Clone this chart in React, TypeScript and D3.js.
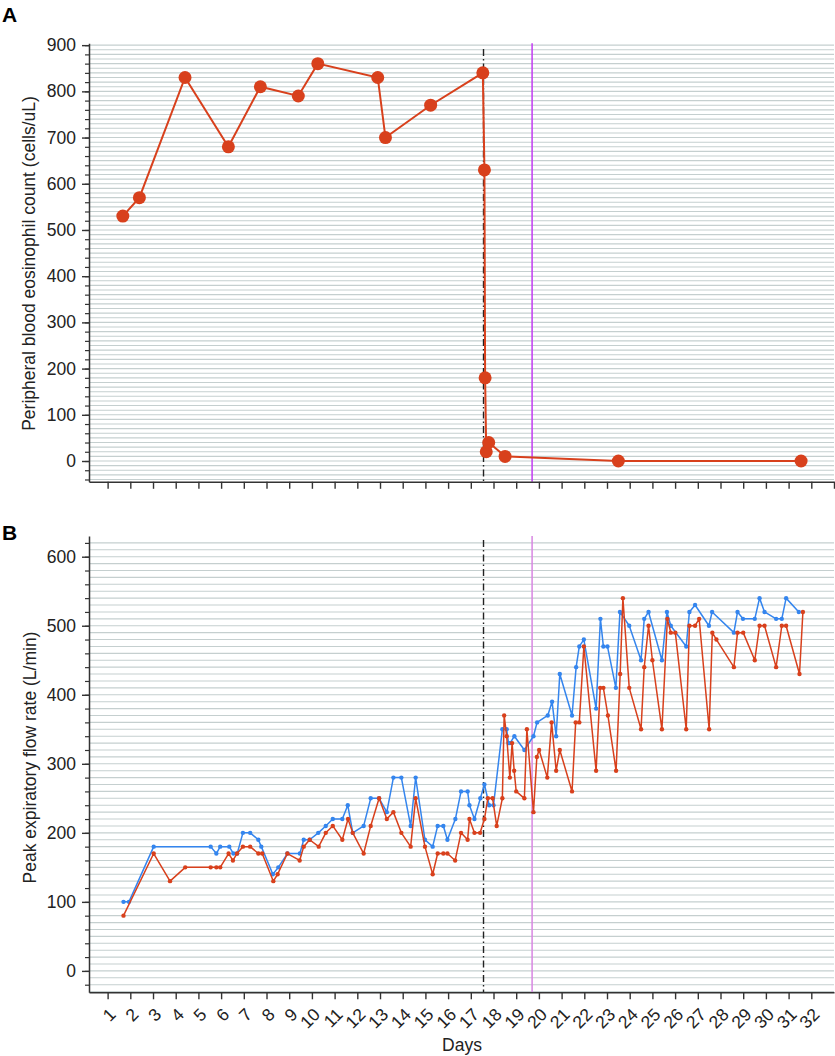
import React, { useRef, useEffect } from "react";
import * as d3 from "d3";

// Panel A: peripheral blood eosinophils
const eosDays = [1.67, 2.4, 4.41, 6.32, 7.73, 9.4, 10.26, 12.9, 13.24, 15.23, 17.53, 17.6, 17.63, 17.68, 17.79, 18.51, 23.5, 31.55];
const eosCounts = [530, 570, 830, 680, 810, 790, 860, 830, 700, 770, 840, 630, 180, 20, 40, 10, 0, 0];

// Panel B: peak expiratory flow, blue series
const pefBlueDays = [
  1.7, 1.94, 3.03, 5.54, 5.79, 5.96, 6.36, 6.54, 6.71, 6.96, 7.28, 7.64, 7.77, 8.28, 8.52, 8.92, 9.47, 9.64, 9.9,
  10.28, 10.61, 10.92, 11.34, 11.58, 11.8, 12.28, 12.59, 12.96, 13.3, 13.59, 13.94, 14.35, 14.57, 14.98, 15.32,
  15.54, 15.79, 15.97, 16.32, 16.57, 16.86, 16.94, 17.16, 17.42, 17.6, 17.81, 18.0, 18.39, 18.58, 18.66, 18.73,
  18.92, 19.36, 19.76, 19.92, 20.39, 20.58, 20.76, 20.92, 21.46, 21.64, 21.78, 21.98, 22.52, 22.71, 22.84, 23.02,
  23.39, 23.57, 23.98, 24.5, 24.64, 24.83, 25.42, 25.64, 25.81, 26.49, 26.63, 26.88, 27.49, 27.63, 28.59, 28.75,
  28.99, 29.51, 29.72, 29.94, 30.45, 30.7, 30.89, 31.45,
];
const pefBlue = [
  100, 100, 180, 180, 170, 180, 180, 170, 170, 200, 200, 190, 180, 140, 150, 170, 170, 190, 190,
  200, 210, 220, 220, 240, 200, 210, 250, 250, 230, 280, 280, 210, 280, 190, 180,
  210, 210, 190, 220, 260, 260, 240, 220, 250, 270, 240, 240, 350, 350, 330, 330,
  340, 320, 340, 360, 370, 390, 340, 430, 370, 440, 470, 480, 380, 510, 470, 470,
  410, 520, 500, 450, 510, 520, 450, 520, 500, 470, 520, 530, 500, 520, 490, 520,
  510, 510, 540, 520, 510, 510, 540, 520,
];

// Panel B: peak expiratory flow, red series
const pefRedDays = [
  1.7, 3.03, 3.75, 4.42, 5.54, 5.79, 5.96, 6.33, 6.52, 6.7, 6.96, 7.28, 7.64, 7.81, 8.3, 8.49, 8.92, 9.46, 9.64,
  9.9, 10.3, 10.61, 10.92, 11.34, 11.59, 11.8, 12.28, 12.59, 12.96, 13.3, 13.59, 13.94, 14.35, 14.57, 14.98,
  15.32, 15.54, 15.79, 15.97, 16.31, 16.57, 16.86, 16.94, 17.16, 17.41, 17.6, 17.75, 17.96, 18.14, 18.39, 18.47,
  18.58, 18.72, 18.82, 18.91, 19.0, 19.36, 19.47, 19.76, 19.91, 20.01, 20.37, 20.56, 20.76, 20.92, 21.46, 21.62,
  21.78, 21.98, 22.52, 22.7, 22.84, 23.04, 23.4, 23.58, 23.7, 23.98, 24.5, 24.64, 24.83, 25.0, 25.42, 25.66,
  25.81, 26.01, 26.49, 26.63, 26.88, 27.06, 27.5, 27.64, 27.82, 28.59, 28.75, 29.0, 29.51, 29.72, 29.94, 30.45,
  30.7, 30.89, 31.48, 31.63,
];
const pefRed = [
  80, 170, 130, 150, 150, 150, 150, 170, 160, 170, 180, 180, 170, 170, 130, 140, 170, 160, 180,
  190, 180, 200, 210, 190, 220, 200, 170, 210, 250, 220, 230, 200, 180, 250, 180,
  140, 170, 170, 170, 160, 200, 190, 220, 200, 200, 220, 250, 250, 210, 250, 370,
  340, 280, 330, 290, 260, 250, 350, 230, 310, 320, 280, 360, 290, 320, 260, 360,
  360, 470, 290, 410, 410, 370, 290, 430, 540, 410, 350, 440, 500, 450, 350, 510,
  490, 490, 350, 500, 500, 510, 350, 490, 480, 440, 490, 490, 450, 500, 500, 440,
  500, 500, 430, 520,
];

const dayLabels = ["1", "2", "3", "4", "5", "6", "7", "8", "9", "10", "11", "12", "13", "14", "15", "16",
  "17", "18", "19", "20", "21", "22", "23", "24", "25", "26", "27", "28", "29", "30", "31", "32"];
const eosTicks = [0, 100, 200, 300, 400, 500, 600, 700, 800, 900];
const pefTicks = [0, 100, 200, 300, 400, 500, 600];

const steroidDay = 17.56;
const dischargeDay = 19.7;

const RED = "#d8401c";
const BLUE = "#3485ee";
const GRID = "#c5cfcf";
const AXIS = "#333";
const FONT = "'Liberation Sans', Arial, Helvetica, sans-serif";
const FS = 17.5;

export default function App() {
  const ref = useRef<SVGSVGElement>(null);

  useEffect(() => {
    const width = 835;
    const height = 1056;
    const svg = d3.select(ref.current);
    svg.selectAll("*").remove();
    svg.attr("width", width).attr("height", height).style("font-family", FONT);

    const x = d3.scaleLinear().domain([0.18, 33]).range([89, 834]);

    function panel(
      y: d3.ScaleLinear<number, number>,
      majors: number[],
      gridFrom: number,
      gridTo: number,
      topLine: number,
      magentaColor: string
    ) {
      const g = svg.append("g");
      const [y0, y1] = y.range();

      // horizontal grid every 10 units
      g.append("g")
        .selectAll("line")
        .data(d3.range(gridFrom, gridTo + 1, 10))
        .enter()
        .append("line")
        .attr("x1", x.range()[0] + 1)
        .attr("x2", x.range()[1])
        .attr("y1", d => y(d))
        .attr("y2", d => y(d))
        .attr("stroke", GRID)
        .attr("stroke-width", 1.1);

      // dash-dot line and magenta line
      g.append("line")
        .attr("x1", x(steroidDay))
        .attr("x2", x(steroidDay))
        .attr("y1", topLine)
        .attr("y2", y0)
        .attr("stroke", "#222")
        .attr("stroke-width", 1.4)
        .attr("stroke-dasharray", "7,3,1.5,3");

      g.append("line")
        .attr("x1", x(dischargeDay))
        .attr("x2", x(dischargeDay))
        .attr("y1", y1)
        .attr("y2", y0)
        .attr("stroke", magentaColor)
        .attr("stroke-width", 1.5);

      // y axis
      const minors = d3.range(Math.ceil(y.domain()[0] / 20) * 20, y.domain()[1], 20);
      g.append("g")
        .attr("transform", `translate(${x.range()[0]},0)`)
        .call(d3.axisLeft(y).tickValues(minors).tickSize(4).tickSizeOuter(0).tickFormat(() => ""))
        .call(s => s.select(".domain").attr("stroke", AXIS).attr("stroke-width", 1.5))
        .call(s => s.selectAll(".tick line").attr("stroke", AXIS).attr("stroke-width", 1.2));

      g.append("g")
        .attr("transform", `translate(${x.range()[0]},0)`)
        .call(d3.axisLeft(y).tickValues(majors).tickSize(7).tickPadding(6).tickSizeOuter(0))
        .call(s => s.select(".domain").remove())
        .call(s => s.selectAll(".tick line").attr("stroke", AXIS).attr("stroke-width", 1.4))
        .call(s => s.selectAll(".tick text").attr("font-size", FS).attr("fill", "#222").style("font-family", FONT));

      return g;
    }

    // ---------- Panel A ----------
    const yA = d3.scaleLinear().domain([-45, 904]).range([481.8, 43.3]);
    const gA = panel(yA, eosTicks, -40, 900, 49, "#c23cf2");

    gA.append("g")
      .attr("transform", `translate(0,${yA.range()[0]})`)
      .call(d3.axisBottom(x).tickValues(d3.range(1, 34)).tickSize(7).tickSizeOuter(0).tickFormat(() => ""))
      .call(s => s.select(".domain").attr("stroke", AXIS).attr("stroke-width", 1.5))
      .call(s => s.selectAll(".tick line").attr("stroke", AXIS).attr("stroke-width", 1.4));

    const lineA = d3.line<number>().x((d, i) => x(eosDays[i])).y(d => yA(d));
    gA.append("path")
      .datum(eosCounts)
      .attr("d", lineA)
      .attr("fill", "none")
      .attr("stroke", RED)
      .attr("stroke-width", 2);
    gA.selectAll("circle.eos")
      .data(eosCounts)
      .enter()
      .append("circle")
      .attr("cx", (d, i) => x(eosDays[i]))
      .attr("cy", d => yA(d))
      .attr("r", 6.5)
      .attr("fill", RED);

    gA.append("text")
      .attr("transform", `translate(35,263.5) rotate(-90)`)
      .attr("text-anchor", "middle")
      .attr("font-size", FS)
      .attr("fill", "#222")
      .text("Peripheral blood eosinophil count (cells/uL)");

    svg.append("text").attr("x", 2).attr("y", 22).attr("font-size", 21).attr("font-weight", "bold").text("A");

    // ---------- Panel B ----------
    const yB = d3.scaleLinear().domain([-31, 630]).range([992.3, 536]);
    const gB = panel(yB, pefTicks, -30, 620, 540, "#d887e2");

    const xAxisB = gB.append("g")
      .attr("transform", `translate(0,${yB.range()[0]})`)
      .call(d3.axisBottom(x).tickValues(dayLabels.map(Number)).tickSize(7).tickSizeOuter(0).tickFormat(() => ""))
      .call(s => s.select(".domain").attr("stroke", AXIS).attr("stroke-width", 1.5))
      .call(s => s.selectAll(".tick line").attr("stroke", AXIS).attr("stroke-width", 1.4));

    // rotated day labels (inside the translated axis group)
    xAxisB.selectAll("text.lab")
      .data(dayLabels)
      .enter()
      .append("text")
      .attr("class", "lab")
      .attr("transform", d => `translate(${x(+d) + 5},19) rotate(-45)`)
      .attr("text-anchor", "end")
      .attr("dy", "0.35em")
      .attr("font-size", FS)
      .attr("fill", "#222")
      .style("font-family", FONT)
      .text(d => d);

    const series = [
      { days: pefBlueDays, vals: pefBlue, color: BLUE },
      { days: pefRedDays, vals: pefRed, color: RED },
    ];
    series.forEach(sr => {
      const ln = d3.line<number>().x((d, i) => x(sr.days[i])).y(d => yB(d));
      gB.append("path")
        .datum(sr.vals)
        .attr("d", ln)
        .attr("fill", "none")
        .attr("stroke", sr.color)
        .attr("stroke-width", 1.5)
        .attr("stroke-linejoin", "round");
      gB.append("g")
        .selectAll("circle")
        .data(sr.vals)
        .enter()
        .append("circle")
        .attr("cx", (d, i) => x(sr.days[i]))
        .attr("cy", d => yB(d))
        .attr("r", 2.2)
        .attr("fill", sr.color);
    });

    gB.append("text")
      .attr("transform", `translate(36,757.5) rotate(-90)`)
      .attr("text-anchor", "middle")
      .attr("font-size", FS)
      .attr("fill", "#222")
      .text("Peak expiratory flow rate (L/min)");

    gB.append("text")
      .attr("x", 462)
      .attr("y", 1051)
      .attr("text-anchor", "middle")
      .attr("font-size", FS)
      .attr("fill", "#222")
      .text("Days");

    svg.append("text").attr("x", 2).attr("y", 540).attr("font-size", 21).attr("font-weight", "bold").text("B");
  }, []);

  return <svg ref={ref} style={{ position: "absolute", left: 0, top: 0 }}></svg>;
}
